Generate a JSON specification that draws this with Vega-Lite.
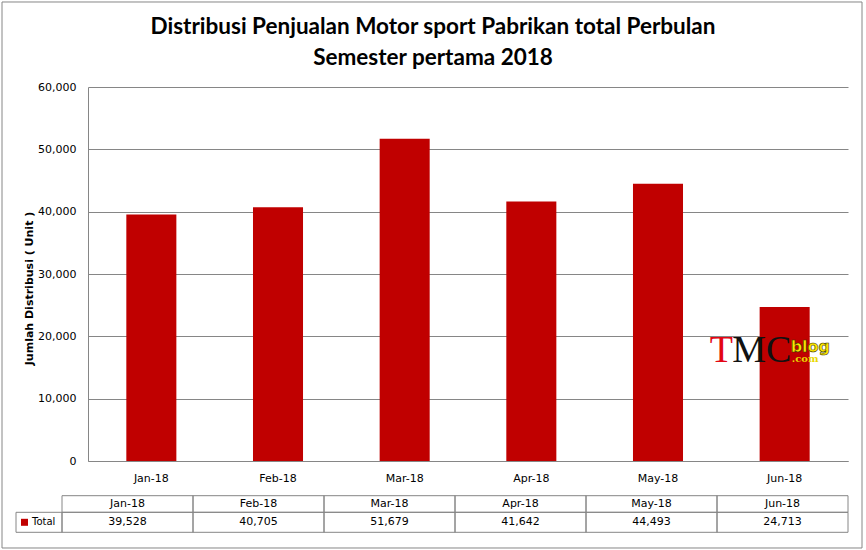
{
  "$schema": "https://vega.github.io/schema/vega-lite/v6.json",
  "autosize": {"type": "none"},
  "width": 760,
  "height": 374,
  "padding": {"left": 88, "top": 87, "right": 18, "bottom": 89},
  "background": "white",
  "title": {
    "text": ["Distribusi Penjualan Motor sport Pabrikan total Perbulan", "Semester pertama 2018"],
    "font": "Lato",
    "fontSize": 22.5,
    "fontWeight": "bold",
    "color": "#000000",
    "anchor": "middle",
    "frame": "group",
    "dx": -35,
    "lineHeight": 31,
    "offset": -68
  },
  "datasets": {
    "bulan": [
      {"bulan": "Jan-18", "total": 39528},
      {"bulan": "Feb-18", "total": 40705},
      {"bulan": "Mar-18", "total": 51679},
      {"bulan": "Apr-18", "total": 41642},
      {"bulan": "May-18", "total": 44493},
      {"bulan": "Jun-18", "total": 24713}
    ],
    "baris": [{"baris": "Total"}],
    "bingkai": [{"bingkai": "frame"}]
  },
  "layer": [
    {
      "data": {"name": "bulan"},
      "mark": {"type": "bar", "color": "#C00000"},
      "encoding": {
        "x": {
          "field": "bulan", "type": "nominal", "sort": null, "title": null,
          "scale": {"paddingInner": 0.605, "paddingOuter": 0.3026},
          "axis": {
            "labelFont": "DejaVu Sans", "labelFontSize": 11, "labelColor": "#000000",
            "labelAngle": 0, "labelPadding": 11, "ticks": false,
            "domainColor": "#868686", "domainWidth": 1
          }
        },
        "y": {
          "field": "total", "type": "quantitative",
          "title": "Jumlah Distribusi ( Unit )",
          "scale": {"domain": [0, 60000], "nice": false},
          "axis": {
            "values": [0, 10000, 20000, 30000, 40000, 50000, 60000],
            "format": ",.0f",
            "labelFont": "DejaVu Sans", "labelFontSize": 11, "labelColor": "#000000",
            "labelPadding": 12, "ticks": false,
            "domainColor": "#868686", "gridColor": "#868686", "gridWidth": 1,
            "titleFont": "DejaVu Sans", "titleFontSize": 11, "titleFontWeight": "bold",
            "titleColor": "#000000", "titlePadding": 3, "titleY": 201
          }
        }
      }
    },
    {
      "data": {"name": "bingkai"},
      "mark": {"type": "rect", "filled": false, "stroke": "#868686", "strokeWidth": 1},
      "encoding": {
        "x": {"field": "bingkai", "type": "nominal", "axis": null,
              "scale": {"range": [-86, 774], "paddingInner": 0, "paddingOuter": 0}},
        "y": {"datum": 73637, "type": "quantitative", "scale": {"domain": [0, 60000], "nice": false}},
        "y2": {"datum": -13957}
      }
    },
    {
      "data": {"values": [{"logo": "T"}]},
      "mark": {"type": "text", "font": "Liberation Serif", "fontSize": 38, "color": "#E30613",
               "align": "left", "baseline": "alphabetic", "dx": -75},
      "encoding": {
        "text": {"field": "logo"},
        "x": {"datum": "Jun-18", "type": "nominal", "axis": null,
              "scale": {"domain": ["Jan-18", "Feb-18", "Mar-18", "Apr-18", "May-18", "Jun-18"],
                        "paddingInner": 0.605, "paddingOuter": 0.3026}},
        "y": {"datum": 15883, "type": "quantitative", "scale": {"domain": [0, 60000], "nice": false}}
      }
    },
    {
      "data": {"values": [{"logo": "MC"}]},
      "mark": {"type": "text", "font": "Liberation Serif", "fontSize": 38, "color": "#111111",
               "align": "left", "baseline": "alphabetic", "dx": -52.5},
      "encoding": {
        "text": {"field": "logo"},
        "x": {"datum": "Jun-18", "type": "nominal", "axis": null,
              "scale": {"domain": ["Jan-18", "Feb-18", "Mar-18", "Apr-18", "May-18", "Jun-18"],
                        "paddingInner": 0.605, "paddingOuter": 0.3026}},
        "y": {"datum": 15883, "type": "quantitative", "scale": {"domain": [0, 60000], "nice": false}}
      }
    },
    {
      "data": {"values": [{"logo": "blog"}]},
      "mark": {"type": "text", "font": "DejaVu Sans", "fontSize": 16, "fontWeight": "bold",
               "color": "#FFE600", "stroke": "#3a3a00", "strokeWidth": 0.6,
               "align": "left", "baseline": "alphabetic", "dx": 6},
      "encoding": {
        "text": {"field": "logo"},
        "x": {"datum": "Jun-18", "type": "nominal", "axis": null,
              "scale": {"domain": ["Jan-18", "Feb-18", "Mar-18", "Apr-18", "May-18", "Jun-18"],
                        "paddingInner": 0.605, "paddingOuter": 0.3026}},
        "y": {"datum": 17487, "type": "quantitative", "scale": {"domain": [0, 60000], "nice": false}}
      }
    },
    {
      "data": {"values": [{"logo": ".com"}]},
      "mark": {"type": "text", "font": "DejaVu Serif", "fontSize": 10, "fontWeight": "bold",
               "color": "#E8D800", "align": "left", "baseline": "alphabetic", "dx": 7},
      "encoding": {
        "text": {"field": "logo"},
        "x": {"datum": "Jun-18", "type": "nominal", "axis": null,
              "scale": {"domain": ["Jan-18", "Feb-18", "Mar-18", "Apr-18", "May-18", "Jun-18"],
                        "paddingInner": 0.605, "paddingOuter": 0.3026}},
        "y": {"datum": 15883, "type": "quantitative", "scale": {"domain": [0, 60000], "nice": false}}
      }
    },
    {
      "data": {"name": "bulan"},
      "mark": {"type": "rect", "filled": false, "stroke": "#868686", "strokeWidth": 1},
      "encoding": {
        "x": {"field": "bulan", "type": "nominal", "sort": null, "axis": null,
              "scale": {"range": [-26, 760], "paddingInner": 0, "paddingOuter": 0}},
        "y": {"datum": -5567, "type": "quantitative", "scale": {"domain": [0, 60000], "nice": false}},
        "y2": {"datum": -8230}
      }
    },
    {
      "data": {"name": "bulan"},
      "mark": {"type": "rect", "filled": false, "stroke": "#868686", "strokeWidth": 1},
      "encoding": {
        "x": {"field": "bulan", "type": "nominal", "sort": null, "axis": null,
              "scale": {"range": [-26, 760], "paddingInner": 0, "paddingOuter": 0}},
        "y": {"datum": -8230, "type": "quantitative", "scale": {"domain": [0, 60000], "nice": false}},
        "y2": {"datum": -11439}
      }
    },
    {
      "data": {"name": "bulan"},
      "mark": {"type": "text", "font": "DejaVu Sans", "fontSize": 11, "color": "#000000", "baseline": "middle"},
      "encoding": {
        "text": {"field": "bulan"},
        "x": {"field": "bulan", "type": "nominal", "sort": null, "axis": null,
              "scale": {"range": [-26, 760], "paddingInner": 0, "paddingOuter": 0}},
        "y": {"datum": -6898, "type": "quantitative", "scale": {"domain": [0, 60000], "nice": false}}
      }
    },
    {
      "data": {"name": "bulan"},
      "mark": {"type": "text", "font": "DejaVu Sans", "fontSize": 11, "color": "#000000", "baseline": "middle"},
      "encoding": {
        "text": {"field": "total", "format": ",.0f"},
        "x": {"field": "bulan", "type": "nominal", "sort": null, "axis": null,
              "scale": {"range": [-26, 760], "paddingInner": 0, "paddingOuter": 0}},
        "y": {"datum": -9834, "type": "quantitative", "scale": {"domain": [0, 60000], "nice": false}}
      }
    },
    {
      "data": {"name": "baris"},
      "mark": {"type": "rect", "filled": false, "stroke": "#868686", "strokeWidth": 1},
      "encoding": {
        "x": {"field": "baris", "type": "nominal", "axis": null,
              "scale": {"range": [-72, -26], "paddingInner": 0, "paddingOuter": 0}},
        "y": {"datum": -8230, "type": "quantitative", "scale": {"domain": [0, 60000], "nice": false}},
        "y2": {"datum": -11439}
      }
    },
    {
      "data": {"name": "baris"},
      "mark": {"type": "point", "shape": "square", "filled": true, "size": 49,
               "color": "#C00000", "opacity": 1, "xOffset": -14.5},
      "encoding": {
        "x": {"field": "baris", "type": "nominal", "axis": null,
              "scale": {"range": [-72, -26], "paddingInner": 0, "paddingOuter": 0}},
        "y": {"datum": -9834, "type": "quantitative", "scale": {"domain": [0, 60000], "nice": false}}
      }
    },
    {
      "data": {"name": "baris"},
      "mark": {"type": "text", "font": "DejaVu Sans", "fontSize": 10, "color": "#000000",
               "align": "left", "baseline": "middle", "dx": -7},
      "encoding": {
        "text": {"field": "baris"},
        "x": {"field": "baris", "type": "nominal", "axis": null,
              "scale": {"range": [-72, -26], "paddingInner": 0, "paddingOuter": 0}},
        "y": {"datum": -9834, "type": "quantitative", "scale": {"domain": [0, 60000], "nice": false}}
      }
    }
  ],
  "resolve": {"scale": {"x": "independent"}},
  "config": {
    "view": {"stroke": null}
  }
}
